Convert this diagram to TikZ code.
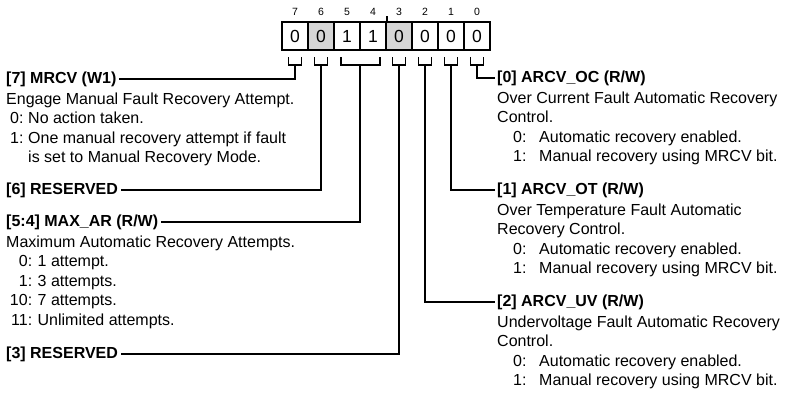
\documentclass[tikz,border=0pt]{standalone}
\usepackage{fontspec}
\setmainfont{Liberation Sans}
\usetikzlibrary{calc}
\definecolor{boxgray}{HTML}{D6D6D6}
\begin{document}
\begin{tikzpicture}[x=1pt,y=-1pt,
  bitbox/.style={draw=black, line width=2pt, minimum width=26pt, minimum height=28pt, inner sep=0pt, font=\fontsize{17.5}{17.5}\selectfont},
  graybox/.style={bitbox, fill=boxgray},
  bitnum/.style={inner sep=0pt, font=\fontsize{10.5}{10.5}\selectfont},
  conn/.style={line width=1.8pt, line join=miter},
  head/.style={anchor=west, inner xsep=2.5pt, inner ysep=0pt, font=\bfseries\fontsize{16}{19}\selectfont},
  txt/.style={anchor=base west, inner sep=0pt, font=\fontsize{16}{19}\selectfont}]

\useasboundingbox (0,0) rectangle (788,394);

% register boxes
\node[bitbox]  (B7) at (295,36) {0};
\node[graybox] (B6) at (321,36) {0};
\node[bitbox]  (B5) at (347,36) {1};
\node[bitbox]  (B4) at (373,36) {1};
\node[graybox] (B3) at (399,36) {0};
\node[bitbox]  (B2) at (425,36) {0};
\node[bitbox]  (B1) at (451,36) {0};
\node[bitbox]  (B0) at (477,36) {0};

% bit numbers
\foreach \i/\x in {7/295,6/321,5/347,4/373,3/399,2/425,1/451,0/477}
  \node[bitnum] (n\i) at (\x,12) {\i};

% nibble tick
\draw[line width=1.2pt] (B4.north east) -- ++(0,-5);

% brackets
\foreach \b in {B7,B6,B3,B2,B1,B0}
  \draw[conn] ([xshift=-6.5pt,yshift=-6pt]\b.south) -- ++(0,8) -- ++(13,0) -- ++(0,-8);
\draw[conn] ([xshift=-6pt,yshift=-6pt]B5.south) -- ++(0,8) -| ([xshift=7pt,yshift=-6pt]B4.south);

% stem coordinates
\coordinate (s7) at ([yshift=-14pt]B7.south);
\coordinate (s6) at ([yshift=-14pt]B6.south);
\coordinate (s54) at ($(B5.south)!0.5!(B4.south)+(0,14)$);
\coordinate (s3) at ([yshift=-14pt]B3.south);
\coordinate (s2) at ([yshift=-14pt]B2.south);
\coordinate (s1) at ([yshift=-14pt]B1.south);
\coordinate (s0) at ([yshift=-14pt]B0.south);

% left headings
\node[head] (h7)  at (3.5,79)  {[7] MRCV (W1)};
\node[head] (h6)  at (3.5,190) {[6] RESERVED};
\node[head] (h54) at (3.5,222) {[5:4] MAX\_AR (R/W)};
\node[head] (h3)  at (3.5,354) {[3] RESERVED};
% right headings
\node[head] (h0) at (494.5,78)  {[0] ARCV\_OC (R/W)};
\node[head] (h1) at (494.5,190) {[1] ARCV\_OT (R/W)};
\node[head] (h2) at (494.5,302) {[2] ARCV\_UV (R/W)};

% connectors
\draw[conn] (s7) |- (h7.east);
\draw[conn] (s6) |- (h6.east);
\draw[conn] (s54) |- (h54.east);
\draw[conn] (s3) |- (h3.east);
\draw[conn] (s2) |- (h2.west);
\draw[conn] (s1) |- (h1.west);
\draw[conn] (s0) |- (h0.west);

% left body texts
\node[txt] (t7a) at (6,104.3) {Engage Manual Fault Recovery Attempt.};
\node[txt] (t7b) at (10,123.8) {\makebox[18pt][l]{0:}No action taken.};
\node[txt] (t7c) at (10,143.3) {\makebox[18pt][l]{1:}One manual recovery attempt if fault};
\node[txt] (t7d) at (28,162.8) {is set to Manual Recovery Mode.};

\node[txt] (t5a) at (6,247.3) {Maximum Automatic Recovery Attempts.};
\node[txt] (t5b) at (6,266.8) {\makebox[26pt][r]{0:}\hspace{5.5pt}1 attempt.};
\node[txt] (t5c) at (6,286.3) {\makebox[26pt][r]{1:}\hspace{5.5pt}3 attempts.};
\node[txt] (t5d) at (6,305.8) {\makebox[26pt][r]{10:}\hspace{5.5pt}7 attempts.};
\node[txt] (t5e) at (6,325.3) {\makebox[26pt][r]{11:}\hspace{5.5pt}Unlimited attempts.};

% right body texts
\node[txt] (t0a) at (497,103.3) {Over Current Fault Automatic Recovery};
\node[txt] (t0b) at (497,122.8) {Control.};
\node[txt] (t0c) at (513,142.3) {\makebox[26pt][l]{0:}Automatic recovery enabled.};
\node[txt] (t0d) at (513,161.8) {\makebox[26pt][l]{1:}Manual recovery using MRCV bit.};

\node[txt] (t1a) at (497,215.3) {Over Temperature Fault Automatic};
\node[txt] (t1b) at (497,234.8) {Recovery Control.};
\node[txt] (t1c) at (513,254.3) {\makebox[26pt][l]{0:}Automatic recovery enabled.};
\node[txt] (t1d) at (513,273.8) {\makebox[26pt][l]{1:}Manual recovery using MRCV bit.};

\node[txt] (t2a) at (497,327.3) {Undervoltage Fault Automatic Recovery};
\node[txt] (t2b) at (497,346.8) {Control.};
\node[txt] (t2c) at (513,366.3) {\makebox[26pt][l]{0:}Automatic recovery enabled.};
\node[txt] (t2d) at (513,385.8) {\makebox[26pt][l]{1:}Manual recovery using MRCV bit.};
\end{tikzpicture}
\end{document}
